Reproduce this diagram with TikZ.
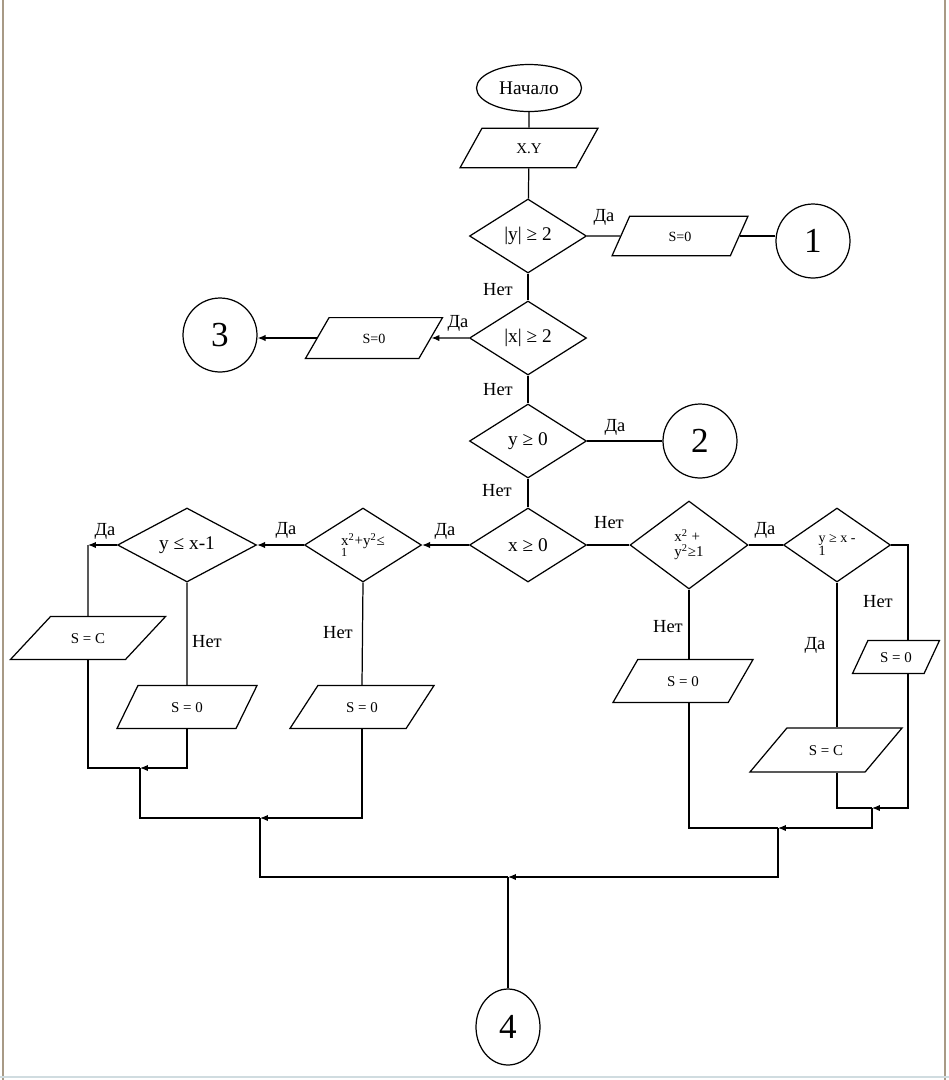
\documentclass[tikz,border=0pt]{standalone}
\usepackage{fontspec}
\setmainfont{Liberation Serif}
\usetikzlibrary{arrows.meta,shapes.geometric,positioning}
\definecolor{framec}{RGB}{168,154,134}
\definecolor{basec}{RGB}{208,220,224}

\begin{document}
\begin{tikzpicture}[x=0.02cm, y=-0.02cm, line width=0.7pt,
  term/.style={draw, ellipse, minimum width=2.1cm, minimum height=0.94cm,
               inner sep=0pt, font=\fontsize{11}{12}\selectfont},
  io/.style={draw, trapezium, trapezium stretches body, minimum width=2.8cm,
             inner xsep=0pt, inner ysep=9.2pt, text height=6pt, text depth=0pt,
             font=\fontsize{8.5}{9}\selectfont},
  slant/.style={trapezium left angle=#1, trapezium right angle=\the\numexpr180-#1\relax},
  cond/.style={draw, diamond, minimum width=2.34cm, minimum height=1.48cm,
               inner sep=0pt, font=\fontsize{11}{12}\selectfont},
  twoline/.style={align=left, font=\fontsize{8.5}{8.5}\selectfont},
  conn/.style={draw, circle, minimum size=1.48cm, inner sep=0pt,
               font=\fontsize{20}{21}\selectfont},
  lbl/.style={inner sep=0pt, font=\fontsize{10.5}{11}\selectfont},
  arr/.style={-{Latex[length=4.5pt,width=3.6pt]}}]

\useasboundingbox (0,0) rectangle (949,1080);
\draw[framec, line width=1.6pt] (3,0) -- (3,1080);
\draw[framec, line width=1.6pt] (945,0) -- (945,1080);
\draw[basec, line width=1pt] (0,1077) -- (949,1077);

% main column
\node[term] (start) at (529,88) {Начало};
\node[io, slant=61, minimum width=2.76cm, inner ysep=8.3pt] (xy) at (529,148) {X.Y};
\node[cond] (cy) at (528,236) {|y| ≥ 2};
\node[io, slant=66, minimum width=2.72cm, inner ysep=8.3pt,
      font=\fontsize{8}{9}\selectfont] (s1) at (680,236) {S=0};
\node[conn] (c1) at (813,241) {1};
\node[cond] (cx) at (528,338) {|x| ≥ 2};
\node[io, slant=60, minimum width=2.74cm, inner ysep=8.6pt,
      font=\fontsize{8}{9}\selectfont] (s3) at (374,338) {S=0};
\node[conn] (c3) at (220,335) {3};
\node[cond] (cyp) at (528,441) {y ≥ 0};
\node[conn] (c2) at (700,441) {2};
\node[cond] (cxp) at (528,545) {x ≥ 0};

% left branch
\node[cond, twoline] (cin) at (363,545) {x\textsuperscript{2}+y\textsuperscript{2}≤\\[-2pt]\scriptsize 1};
\node[cond, minimum width=2.78cm] (cl) at (187,545) {y ≤ x-1};
\node[io, slant=47, minimum width=3.1cm] (sc1) at (88,638) {S = C};
\node[io, slant=64] (sl0) at (187,707) {S = 0};
\node[io, slant=57, minimum width=2.88cm] (sm0) at (362,707) {S = 0};

% right branch
\node[cond, twoline, minimum width=2.36cm, minimum height=1.76cm] (cout) at (689,545)
  {x\textsuperscript{2} +\\y\textsuperscript{2}≥1};
\node[cond, twoline, minimum width=2.14cm, font=\fontsize{8}{7.5}\selectfont] (cr) at (837,545)
  {y ≥ x -\\1};
\node[io, slant=60] (so0) at (683,681) {S = 0};
\node[io, slant=65, minimum width=1.74cm, inner ysep=6.4pt] (sr0) at (896,657) {S = 0};
\node[io, slant=50, minimum width=3.04cm, inner ysep=9.5pt] (src) at (826,750) {S = C};
\node[conn, ellipse, minimum width=1.28cm, minimum height=1.52cm] (c4) at (508,1027) {4};

% junctions
\coordinate (ka) at (88,545);
\coordinate (vr) at (908,545);
\coordinate (m1) at (140,768);
\coordinate (m2) at (260,818);
\coordinate (m3) at (508,877);
\coordinate (m4) at (872,808);
\coordinate (m5) at (778,828);

\draw (start) -- (xy);
\draw (xy) -- (cy);
\draw (cy.east) -- (s1.west);
\draw (s1.east) -- (s1.east -| c1.west);
\draw (cy) -- (cx);
\draw[arr] (cx.west) -- (s3.east);
\draw[arr] (s3.west) -- (s3.west -| c3.east);
\draw (cx) -- (cyp);
\draw (cyp.east) -- (c2);
\draw (cyp) -- (cxp);

\draw[arr] (cxp.west) -- (cin.east);
\draw[arr] (cin.west) -- (cl.east);
\draw[arr] (cl.west) -- (ka);
\draw (ka) -- (sc1.north);
\draw (cl.south) -- (sl0.north);
\draw (cin.south) -- (sm0.north);
\draw (sc1.south) |- (m1);
\draw[arr] (sl0.south) |- (m1);
\draw (m1) |- (m2);
\draw[arr] (sm0.south) |- (m2);
\draw (m2) |- (m3);

\draw (cxp.east) -- (cout.west);
\draw (cout.east) -- (cr.west);
\draw (cout.south) -- (cout.south |- so0.north);
\draw (cr.south) -- (cr.south |- src.north);
\draw (cr.east) -| (vr |- sr0.north);
\draw (cr.south |- src.south) |- (m4);
\draw[arr] (vr |- sr0.south) |- (m4);
\draw (cout.south |- so0.south) |- (m5);
\draw[arr] (m4) |- (m5);
\draw[arr] (m5) |- (m3);
\draw (m3) -- (c4);

% branch labels
\node[lbl] (l1) at (604,217) {Да};
\node[lbl] (l2) at (498,290) {Нет};
\node[lbl] (l3) at (458,323) {Да};
\node[lbl] (l4) at (498,390) {Нет};
\node[lbl] (l5) at (615,427) {Да};
\node[lbl] (l6) at (497,491) {Нет};
\node[lbl] (l7) at (445,531) {Да};
\node[lbl] (l8) at (286,530) {Да};
\node[lbl] (l9) at (105,531) {Да};
\node[lbl] (l10) at (609,523) {Нет};
\node[lbl] (l11) at (765,530) {Да};
\node[lbl] (l12) at (207,642) {Нет};
\node[lbl] (l13) at (338,633) {Нет};
\node[lbl] (l14) at (668,627) {Нет};
\node[lbl] (l15) at (815,645) {Да};
\node[lbl] (l16) at (878,602) {Нет};
\end{tikzpicture}
\end{document}
